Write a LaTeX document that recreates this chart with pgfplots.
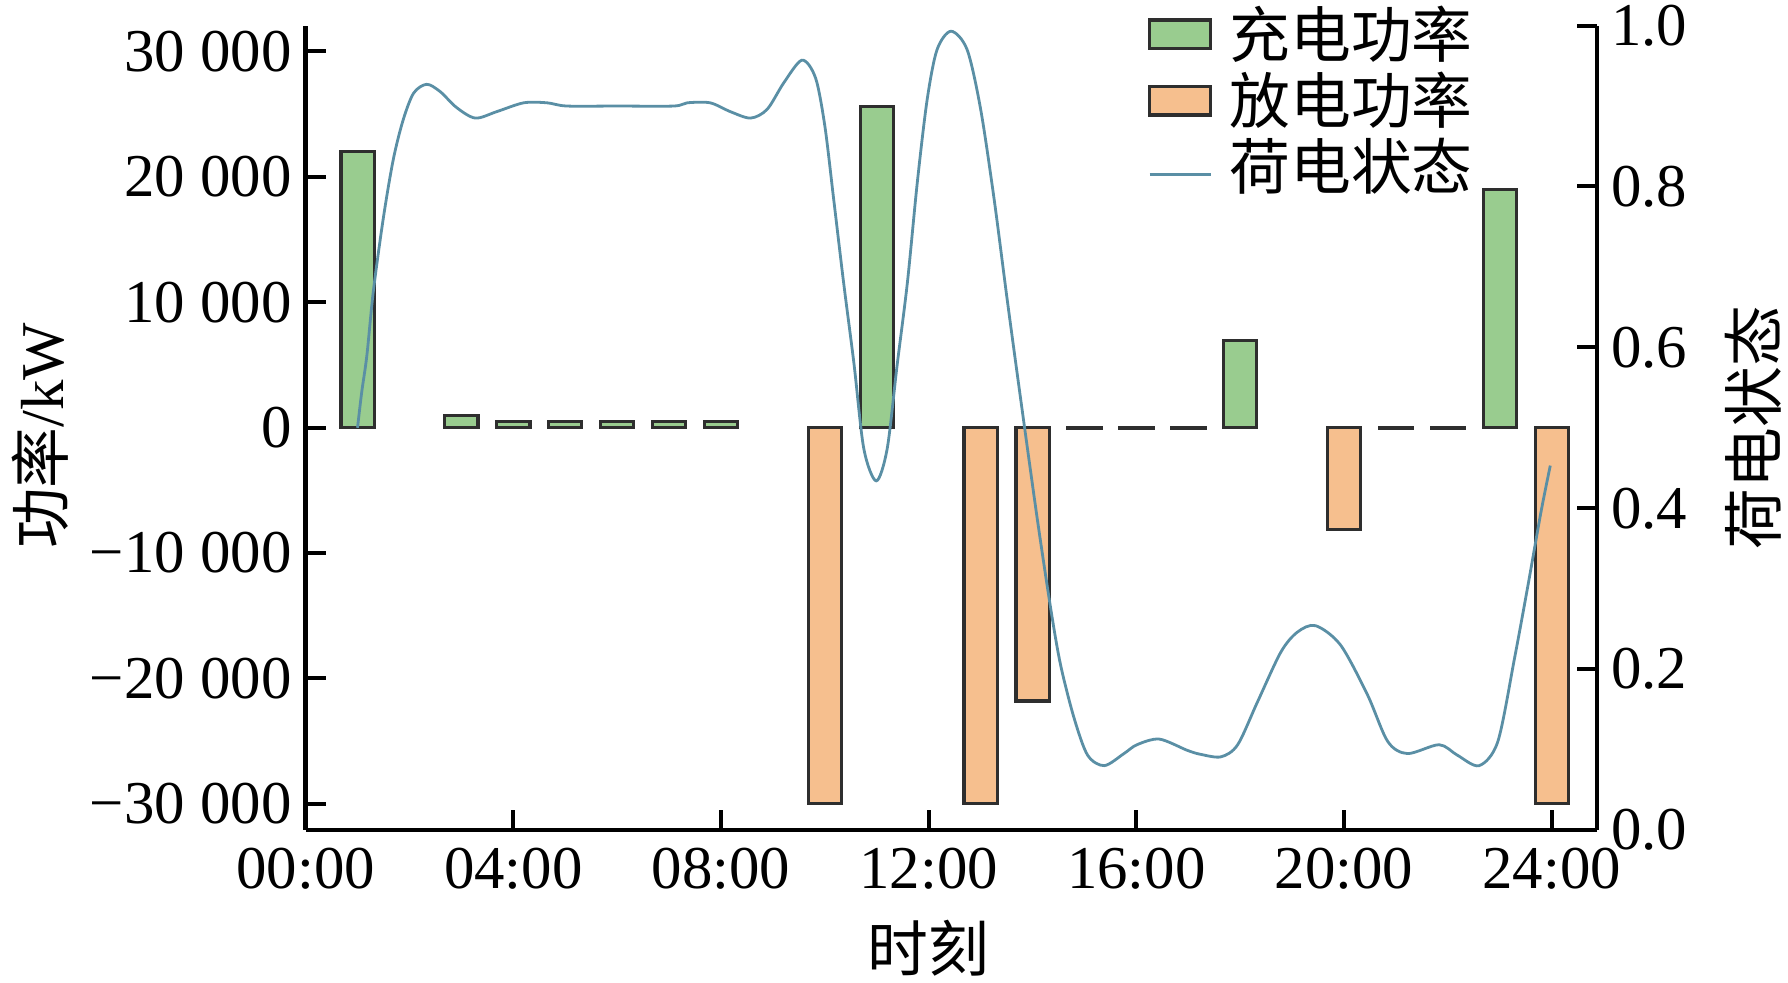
\documentclass[border=0pt]{standalone}
\usepackage{fontspec}
\setmainfont{Liberation Serif}
\newfontfamily\cjk{Noto Sans CJK SC}
\usepackage{pgfplots}
\pgfplotsset{compat=1.18}
\definecolor{cgreen}{HTML}{99CC8F}
\definecolor{corange}{HTML}{F6BF8E}
\definecolor{cborder}{HTML}{2E2E2E}
\definecolor{csoc}{HTML}{5A8FA5}
\newcommand{\fs}{\fontsize{15.2pt}{18pt}\selectfont}
\pgfplotsset{
  common/.style={
    width=322.85pt, height=201.1pt, scale only axis,
    xmin=0, xmax=24.87,
    tick align=inside,
    major tick length=5pt,
    every tick/.style={black, line width=1pt},
    axis line style={line width=1.2pt, -},
    tick label style={font=\fs},
    label style={font=\fs},
    scaled ticks=false,
  }
}
\begin{document}
\begin{tikzpicture}
\path[use as bounding box] (-76.4pt,-38.25pt) rectangle (370.6pt,207.5pt);
\begin{axis}[common,
  axis x line*=bottom, axis y line*=left,
  ymin=-32080, ymax=32040,
  xtick={0,4,8,12,16,20,24},
  xticklabels={00:00,04:00,08:00,12:00,16:00,20:00,24:00},
  xticklabel style={yshift=-1pt},
  ytick={-30000,-20000,-10000,0,10000,20000,30000},
  yticklabels={−30~000,−20~000,−10~000,0,10~000,20~000,30~000},
  xlabel={\cjk 时刻},
  ylabel={{\cjk 功率}/kW},
  xlabel style={at={([yshift=-29.5pt]rel axis cs:0.4825,0)}, anchor=center},
  ylabel style={at={([xshift=-66.4pt]rel axis cs:0,0.49)}, anchor=center},
]
\addplot[ybar, bar width=0.64, bar shift=0pt, fill=cgreen, draw=cborder, line width=0.8pt]
  coordinates {(1,22000) (3,950) (4,450) (5,450) (6,450) (7,450) (8,450) (11,25600) (18,6950) (23,19000)};
\addplot[ybar, bar width=0.64, bar shift=0pt, fill=corange, draw=cborder, line width=0.8pt]
  coordinates {(10,-30000) (13,-30000) (14,-21800) (15,-100) (16,-100) (17,-100) (20,-8150) (21,-100) (22,-100) (24,-30000)};
\end{axis}
\begin{axis}[common,
  axis x line=none, axis y line*=right,
  ymin=0, ymax=1,
  ytick={0,0.2,0.4,0.6,0.8,1},
  yticklabels={0.0,0.2,0.4,0.6,0.8,1.0},
  ylabel={\cjk 荷电状态},
  ylabel style={at={([xshift=39pt]rel axis cs:1,0.5)}, anchor=center},
  legend style={at={([yshift=5.5pt]rel axis cs:0.6518,1)}, anchor=north west,
    draw=none, fill=none, inner sep=0pt, row sep=1.6pt, column sep=4pt,
    font=\fs, nodes={inner sep=0.3pt}},
  legend cell align=left,
]
\addlegendimage{legend image code/.code={\draw[fill=cgreen, draw=cborder, line width=0.8pt] (0pt,-3.6pt) rectangle (15.25pt,3.6pt);}}
\addlegendentry{\cjk 充电功率}
\addlegendimage{legend image code/.code={\draw[fill=corange, draw=cborder, line width=0.8pt] (0pt,-3.6pt) rectangle (15.25pt,3.6pt);}}
\addlegendentry{\cjk 放电功率}
\addplot[csoc, line width=0.7pt, smooth, mark=none,
  legend image code/.code={\draw[csoc, line width=0.7pt] (0pt,-2pt) -- (15.25pt,-2pt);}]
  coordinates {
(1.00,0.500) (1.08,0.544) (1.18,0.590) (1.305,0.670) (1.50,0.762) (1.69,0.834)
(1.88,0.883) (2.08,0.916) (2.33,0.927) (2.59,0.918) (2.91,0.898) (3.27,0.885)
(3.68,0.893) (4.20,0.904) (4.65,0.904) (5.03,0.900) (6.00,0.900) (7.09,0.900)
(7.35,0.904) (7.79,0.904) (8.18,0.893) (8.57,0.885) (8.89,0.896) (9.21,0.929)
(9.56,0.957) (9.82,0.935) (10.00,0.875) (10.17,0.784) (10.36,0.681) (10.56,0.580)
(10.75,0.474) (10.99,0.434) (11.20,0.474) (11.39,0.577) (11.59,0.681) (11.78,0.805)
(11.97,0.908) (12.16,0.970) (12.43,0.993) (12.74,0.970) (13.00,0.896) (13.26,0.784)
(13.51,0.660) (13.77,0.536) (14.09,0.387) (14.35,0.275) (14.54,0.205) (14.80,0.139)
(15.06,0.093) (15.38,0.080) (15.76,0.095) (16.01,0.106) (16.44,0.113) (16.98,0.099)
(17.24,0.094) (17.63,0.091) (17.95,0.106) (18.33,0.159) (18.78,0.221) (19.10,0.246)
(19.45,0.254) (19.93,0.230) (20.45,0.168) (20.84,0.110) (21.22,0.095) (21.83,0.106)
(22.18,0.093) (22.60,0.080) (22.96,0.110) (23.28,0.213) (23.54,0.304) (23.79,0.395)
(23.97,0.453)
  };
\addlegendentry{\cjk 荷电状态}
\end{axis}
\end{tikzpicture}
\end{document}
